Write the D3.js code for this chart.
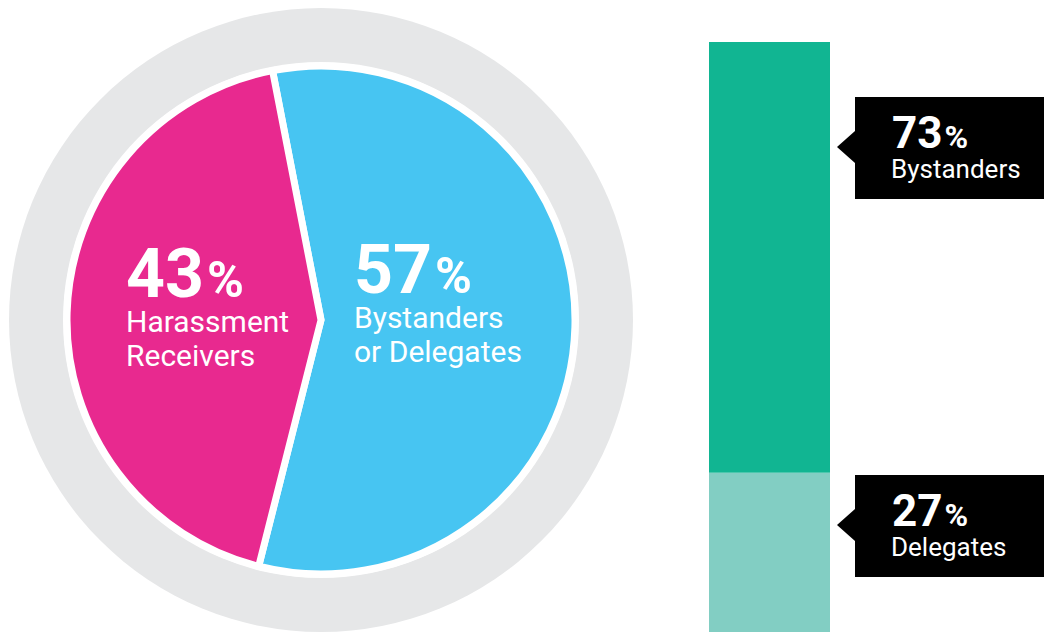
<!DOCTYPE html>
<html>
<head>
<meta charset="utf-8">
<script src="https://cdn.jsdelivr.net/npm/d3@7"></script>
<style>
  body { margin: 0; background: #fff; }
  svg { display: block; font-family: Roboto, "Open Sans", sans-serif; }
</style>
</head>
<body>
<svg width="1044" height="632"></svg>
<script>
// pie: who took part
let pieNames = ['Bystanders or Delegates', 'Harassment Receivers'];
let pieValues = [57, 43];
let pieColors = ['#47c5f2', '#e8298f'];
let pieLines = [['Bystanders', 'or Delegates'], ['Harassment', 'Receivers']];

// bar: split of the 57%
let barNames = ['Delegates', 'Bystanders'];
let barValues = [27, 73];
let barColors = ['#82cec3', '#11b592'];

let svg = d3.select('svg');
let cx = 321, cy = 320;

// grey ring with white gap
svg.append('circle').attr('cx', cx).attr('cy', cy).attr('r', 312).attr('fill', '#e6e7e8');
svg.append('circle').attr('cx', cx).attr('cy', cy).attr('r', 258).attr('fill', '#fff');

let pie = d3.pie().sort(null)
  .startAngle(-11 * Math.PI / 180)
  .endAngle(349 * Math.PI / 180);
let arc = d3.arc().innerRadius(0).outerRadius(254);

let pieG = svg.append('g').attr('transform', `translate(${cx},${cy})`);
pieG.selectAll('path')
  .data(pie(pieValues))
  .join('path')
  .attr('d', arc)
  .attr('fill', (d, i) => pieColors[i])
  .attr('stroke', '#fff')
  .attr('stroke-width', 7)
  .attr('stroke-linejoin', 'miter');

// pie labels
let pieLabelPos = [[354, 293], [126, 297]];
pieValues.forEach((v, i) => {
  let [x, y] = pieLabelPos[i];
  let t = svg.append('text').attr('x', x).attr('y', y).attr('fill', '#fff');
  t.append('tspan').attr('font-size', 68).attr('font-weight', 700).text(v);
  t.append('tspan').attr('font-size', 50).attr('font-weight', 700).attr('dx', 3).text('%');
  pieLines[i].forEach((line, j) => {
    svg.append('text')
      .attr('x', x).attr('y', y + 35 + j * 34)
      .attr('fill', '#fff')
      .attr('font-size', 30)
      .text(line);
  });
});

// stacked bar
let y = d3.scaleLinear().domain([0, 100]).range([632, 42]);
let stacked = d3.cumsum(barValues);
let barX = 709, barW = 121;

svg.selectAll('rect.seg')
  .data(barValues)
  .join('rect')
  .attr('class', 'seg')
  .attr('x', barX)
  .attr('width', barW)
  .attr('y', (d, i) => y(stacked[i]))
  .attr('height', (d, i) => y(stacked[i] - d) - y(stacked[i]))
  .attr('fill', (d, i) => barColors[i]);

// callout boxes, arrow y per segment
let calloutY = [525, 147];
barValues.forEach((v, i) => {
  let ay = calloutY[i];
  let g = svg.append('g').attr('transform', `translate(855,${ay})`);
  g.append('rect').attr('x', 0).attr('y', -50).attr('width', 189).attr('height', 102).attr('fill', '#000');
  g.append('path').attr('d', 'M0,-16L-18,0L0,16Z').attr('fill', '#000');
  let t = g.append('text').attr('x', 37).attr('y', 1).attr('fill', '#fff');
  t.append('tspan').attr('font-size', 44).attr('font-weight', 700).text(v);
  t.append('tspan').attr('font-size', 32).attr('font-weight', 700).attr('dx', 2).text('%');
  g.append('text').attr('x', 36).attr('y', 31).attr('fill', '#fff').attr('font-size', 26).text(barNames[i]);
});
</script>
</body>
</html>
